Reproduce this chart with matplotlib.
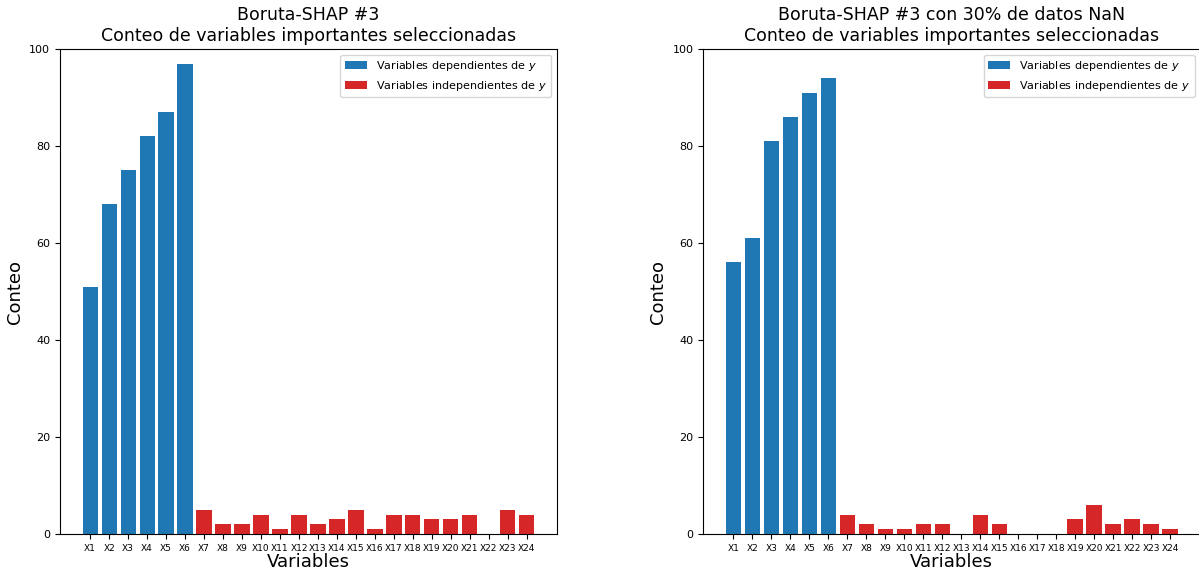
import numpy as np
import matplotlib.pyplot as plt

variables = ['X%d' % i for i in range(1, 25)]

conteo_1 = [51, 68, 75, 82, 87, 97, 5, 2, 2, 4, 1, 4, 2, 3, 5, 1, 4, 4, 3, 3, 4, 0, 5, 4]
conteo_2 = [56, 61, 81, 86, 91, 94, 4, 2, 1, 1, 2, 2, 0, 4, 2, 0, 0, 0, 3, 6, 2, 3, 2, 1]

titulos = ['Boruta-SHAP #3\nConteo de variables importantes seleccionadas',
           'Boruta-SHAP #3 con 30% de datos NaN\nConteo de variables importantes seleccionadas']

n_dep = 6  # X1..X6 dependen de y

fig, axes = plt.subplots(1, 2, figsize=(11.99, 5.74), dpi=100)
fig.subplots_adjust(left=0.05, right=1.001, top=0.9146, bottom=0.0697, wspace=0.294)

for ax, conteo, titulo in zip(axes, [conteo_1, conteo_2], titulos):
    x = np.arange(len(variables))
    ax.bar(x[:n_dep], conteo[:n_dep], color='#1f77b4', label='Variables dependientes de $y$')
    ax.bar(x[n_dep:], conteo[n_dep:], color='#d62728', label='Variables independientes de $y$')
    ax.set_xticks(x)
    ax.set_xticklabels(variables, fontsize=6.5)
    ax.tick_params(axis='y', labelsize=8)
    ax.set_ylim(0, 100)
    ax.set_title(titulo, fontsize=12.5)
    ax.set_xlabel('Variables', fontsize=13, labelpad=0)
    ax.set_ylabel('Conteo', fontsize=13)
    ax.legend(loc='upper right', fontsize=8)

plt.savefig('out.png')
